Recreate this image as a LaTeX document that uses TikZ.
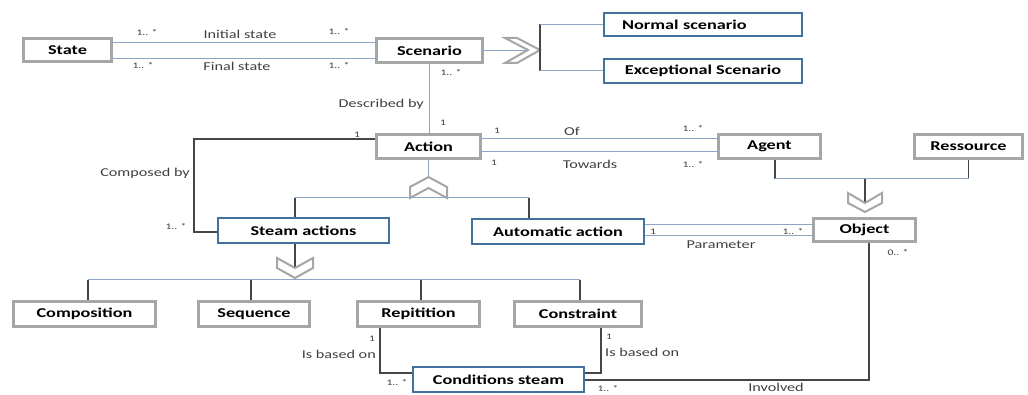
\documentclass[tikz,border=0pt]{standalone}
\usepackage{fontspec}
\setmainfont{Carlito}[FakeStretch=1.35]
\definecolor{boxgray}{RGB}{166,166,166}
\definecolor{boxblue}{RGB}{65,113,156}
\definecolor{lineblue}{RGB}{140,165,200}
\definecolor{linedark}{RGB}{70,70,70}
\definecolor{labelgray}{RGB}{64,64,64}
\begin{document}
\begin{tikzpicture}[x=1pt,y=-1pt,
  graybox/.style={draw=boxgray, line width=3pt, fill=white, inner sep=0pt,
    font=\fontsize{13.5}{15}\selectfont\bfseries, text=black},
  bluebox/.style={draw=boxblue, line width=2pt, fill=white, inner sep=0pt,
    font=\fontsize{13.5}{15}\selectfont\bfseries, text=black},
  lbl/.style={font=\fontsize{12}{14}\selectfont, text=labelgray, inner sep=0pt},
  mult/.style={font=\fontsize{8.5}{10}\selectfont, text=labelgray, inner sep=0pt},
  lightline/.style={draw=lineblue, line width=1pt},
  darkline/.style={draw=linedark, line width=1.2pt},
  chevron/.style={draw=boxgray, line width=2pt, fill=white, line join=miter},
]
\useasboundingbox (0,0) rectangle (1028,395);

% ---- classes ----
\node[graybox, minimum width=88, minimum height=23] (state) at (67.5,50) {State};
\node[graybox, minimum width=106, minimum height=24] (scenario) at (429.5,50.5) {Scenario};
\node[bluebox, minimum width=198, minimum height=23, text width=162, align=left, inner xsep=18]
  (normal) at (703,24.5) {Normal scenario};
\node[bluebox, minimum width=198, minimum height=24] (exceptional) at (703,71) {Exceptional Scenario};
\node[graybox, minimum width=104, minimum height=24] (action) at (428.5,146.5) {Action};
\node[graybox, minimum width=102, minimum height=24] (agent) at (769.5,146.5) {Agent};
\node[graybox, minimum width=108, minimum height=24] (ressource) at (968.5,146.5) {Ressource};
\node[bluebox, minimum width=171, minimum height=25] (steam) at (303.5,230.5) {Steam actions};
\node[bluebox, minimum width=172, minimum height=25] (auto) at (558,231.5) {Automatic action};
\node[graybox, minimum width=102, minimum height=23] (object) at (864.5,230) {Object};
\node[graybox, minimum width=142, minimum height=25] (composition) at (84.5,314) {Composition};
\node[graybox, minimum width=111, minimum height=25] (sequence) at (254,314) {Sequence};
\node[graybox, minimum width=122, minimum height=25] (repitition) at (418.5,314) {Repitition};
\node[graybox, minimum width=127, minimum height=25] (constraint) at (578,314) {Constraint};
\node[bluebox, minimum width=171, minimum height=25] (conditions) at (498.5,379.5) {Conditions steam};

% ---- State / Scenario associations ----
\coordinate (si) at ([yshift=7pt]state.east);
\coordinate (sf) at ([yshift=-9pt]state.east);
\draw[lightline] (si) -- (si -| scenario.west);
\draw[lightline] (sf) -- (sf -| scenario.west);
\node[mult] (m1) at (147,33) {1.. *};
\node[lbl] (l1) at (240,34) {Initial state};
\node[mult] (m2) at (339,32) {1.. *};
\node[mult] (m3) at (143,66) {1.. *};
\node[lbl] (l2) at (237,66) {Final state};
\node[mult] (m4) at (339,66) {1.. *};

% ---- Scenario specialisation ----
\coordinate (scnotch) at (528,50);
\coordinate (scbar) at (540,0);
\draw[lightline] (scenario.east) -- (scenario.east -| scnotch);
\draw[chevron] (505,38) -- (528,50) -- (505,63) -- (517,63) -- (540,50) -- (517,38) -- cycle;
\draw[darkline] (normal.west -| scbar) -- (exceptional.west -| scbar);
\draw[lightline] (normal.west -| scbar) -- (normal.west);
\draw[lightline] (exceptional.west -| scbar) -- (exceptional.west);

% ---- Scenario described by Action ----
\draw[lightline] (scenario.south) -- (scenario.south |- action.north);
\node[mult] (m5) at (451,73) {1.. *};
\node[lbl, anchor=east] (l3) at (424,104) {Described by};
\node[mult] (m6) at (443,123) {1};

% ---- Action / Agent associations ----
\coordinate (ao) at ([yshift=7.5pt]action.east);
\coordinate (at) at ([yshift=-5.5pt]action.east);
\draw[lightline] (ao) -- (ao -| agent.west);
\draw[lightline] (at) -- (at -| agent.west);
\node[mult] (m7) at (497,131) {1};
\node[lbl] (l4) at (572,131) {Of};
\node[mult] (m8) at (693,129) {1.. *};
\node[mult] (m9) at (494,163) {1};
\node[lbl] (l5) at (590,164) {Towards};
\node[mult] (m10) at (693,165) {1.. *};

% ---- Action composed by Steam actions ----
\coordinate (ca) at ([yshift=7.5pt]action.west);
\coordinate (cb) at (194,232);
\draw[darkline] (ca) -| (cb) -- (cb -| steam.west);
\node[mult] (m11) at (357,135) {1};
\node[lbl, anchor=east] (l6) at (190,173) {Composed by};
\node[mult] (m12) at (176,227) {1.. *};

% ---- Action specialisation ----
\coordinate (acapex) at (428.5,177);
\coordinate (hs) at (295,198);
\coordinate (ha) at (529,198);
\draw[lightline] (action.south) -- (action.south |- acapex);
\draw[chevron] (410,198) -- (428.5,188) -- (447,198) -- (447,187) -- (428.5,177) -- (410,187) -- cycle;
\draw[lightline] (hs) -- (ha);
\draw[darkline] (hs) -- (hs |- steam.north);
\draw[darkline] (ha) -- (ha |- auto.north);

% ---- Steam actions specialisation ----
\coordinate (stnotch) at (295,268);
\coordinate (tc) at (88,280);
\coordinate (ts) at (251,280);
\coordinate (tr) at (421,280);
\coordinate (tk) at (580,280);
\draw[darkline] (steam.south -| stnotch) -- (stnotch);
\draw[chevron] (277,258) -- (295,268) -- (313,258) -- (313,268) -- (295,278) -- (277,268) -- cycle;
\draw[lightline] (tc) -- (tk);
\draw[darkline] (tc) -- (tc |- composition.north);
\draw[darkline] (ts) -- (ts |- sequence.north);
\draw[darkline] (tr) -- (tr |- repitition.north);
\draw[darkline] (tk) -- (tk |- constraint.north);

% ---- Agent / Ressource generalise to Object ----
\coordinate (ga) at (775,179);
\coordinate (gr) at (968.5,179);
\coordinate (gm) at (865,179);
\coordinate (obnotch) at (865,203);
\draw[darkline] (ga |- agent.south) -- (ga);
\draw[darkline] (ressource.south) -- (gr);
\draw[lightline] (ga) -- (gr);
\draw[darkline] (gm) -- (obnotch);
\draw[chevron] (848,193) -- (865,203) -- (882,193) -- (882,203) -- (865,212) -- (848,203) -- cycle;

% ---- Automatic action parameter ----
\coordinate (p1) at ([yshift=6.5pt]auto.east);
\coordinate (p2) at ([yshift=-4.5pt]auto.east);
\draw[lightline] (p1) -- (p1 -| object.west);
\draw[lightline] (p2) -- (p2 -| object.west);
\node[mult] (m13) at (653,232) {1};
\node[mult] (m14) at (793,232) {1.. *};
\node[lbl] (l7) at (721,245) {Parameter};

% ---- Object involved in Conditions steam ----
\coordinate (ob) at (869,380);
\draw[darkline] (ob |- object.south) -- (ob) -- (ob -| conditions.east);
\node[mult] (m15) at (898,253) {0.. *};
\node[mult] (m16) at (608,389) {1.. *};
\node[lbl] (l8) at (776,387.5) {Involved};

% ---- Repitition / Constraint based on Conditions steam ----
\coordinate (rb) at (380,373);
\coordinate (kb) at (601,373);
\draw[darkline] (rb |- repitition.south) -- (rb) -- (rb -| conditions.west);
\draw[darkline] (kb |- constraint.south) -- (kb) -- (kb -| conditions.east);
\node[mult] (m17) at (372,339) {1};
\node[lbl, anchor=east] (l9) at (376,354) {Is based on};
\node[mult] (m18) at (397,383) {1.. *};
\node[mult] (m19) at (609,337) {1};
\node[lbl, anchor=west] (l10) at (605,352) {Is based on};
\end{tikzpicture}
\end{document}
